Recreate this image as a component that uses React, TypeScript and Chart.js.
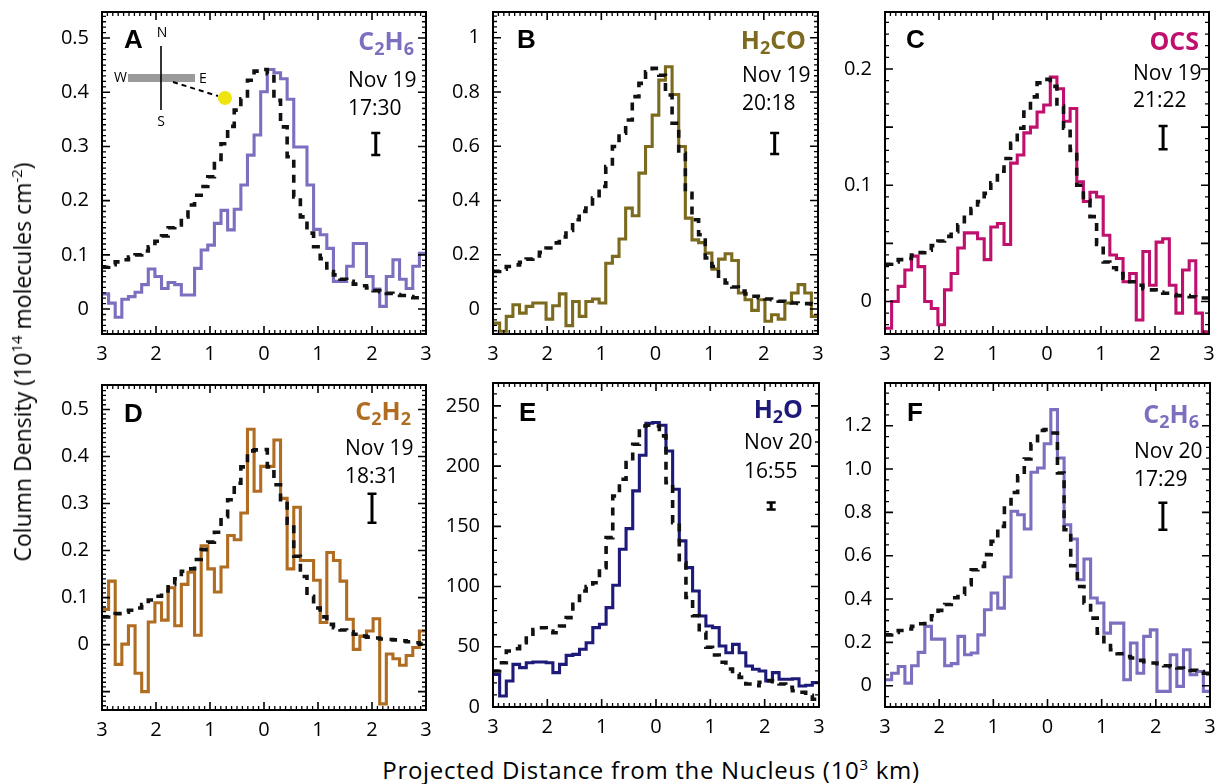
import React, { useEffect, useRef } from "react";
import { Chart, registerables } from "chart.js";

Chart.register(...registerables);

// ---------- shared axis data ----------
const X_MIN = -3;
const X_MAX = 3;
const BIN_COUNT = 49;
const xTickValues = [-3, -2, -1, 0, 1, 2, 3];
const xTickLabels = ["3", "2", "1", "0", "1", "2", "3"];
const binEdges = Array.from({ length: BIN_COUNT + 1 }, (_, i) => X_MIN + (i * (X_MAX - X_MIN)) / BIN_COUNT);

// ---------- panel A: C2H6 Nov 19 17:30 ----------
const obsA = [0.028, 0.011, -0.015, 0.018, 0.023, 0.031, 0.045, 0.074, 0.060, 0.038, 0.049, 0.045, 0.026, 0.026, 0.075, 0.109, 0.118, 0.158, 0.182, 0.146, 0.184, 0.229, 0.284, 0.321, 0.401, 0.442, 0.436, 0.425, 0.387, 0.299, 0.299, 0.229, 0.147, 0.137, 0.112, 0.051, 0.051, 0.079, 0.121, 0.121, 0.060, 0.037, 0.005, 0.060, 0.091, 0.055, 0.038, 0.079, 0.103];
const modelA = [0.077, 0.082, 0.087, 0.091, 0.096, 0.100, 0.107, 0.115, 0.125, 0.135, 0.150, 0.155, 0.170, 0.192, 0.210, 0.226, 0.244, 0.276, 0.305, 0.337, 0.367, 0.388, 0.422, 0.439, 0.442, 0.434, 0.385, 0.336, 0.281, 0.207, 0.170, 0.140, 0.115, 0.093, 0.069, 0.063, 0.055, 0.051, 0.046, 0.043, 0.039, 0.034, 0.032, 0.029, 0.027, 0.025, 0.023, 0.021, 0.020];
const yTicksA = [0, 0.1, 0.2, 0.3, 0.4, 0.5];
const yLabelsA = ["0", "0.1", "0.2", "0.3", "0.4", "0.5"];
const errA = [2.07, 0.284, 0.325];

// ---------- panel B: H2CO Nov 19 20:18 ----------
const obsB = [-0.052, -0.082, -0.027, 0.016, -0.015, 0.010, 0.022, 0.022, -0.037, 0.012, 0.056, -0.061, 0.028, -0.027, 0.028, 0.037, 0.022, 0.169, 0.194, 0.258, 0.372, 0.344, 0.501, 0.599, 0.715, 0.844, 0.893, 0.791, 0.599, 0.335, 0.255, 0.245, 0.206, 0.147, 0.184, 0.204, 0.179, 0.059, 0.034, -0.005, 0.034, -0.045, -0.021, -0.037, 0.022, 0.059, 0.090, 0.059, -0.027];
const modelB = [0.139, 0.147, 0.157, 0.163, 0.172, 0.184, 0.196, 0.209, 0.225, 0.244, 0.266, 0.290, 0.329, 0.360, 0.372, 0.409, 0.452, 0.525, 0.599, 0.648, 0.697, 0.783, 0.832, 0.875, 0.887, 0.862, 0.789, 0.685, 0.574, 0.427, 0.329, 0.274, 0.188, 0.157, 0.121, 0.096, 0.081, 0.066, 0.056, 0.047, 0.042, 0.037, 0.034, 0.029, 0.025, 0.022, 0.021, 0.020, 0.018];
const yTicksB = [0, 0.2, 0.4, 0.6, 0.8, 1];
const yLabelsB = ["0", "0.2", "0.4", "0.6", "0.8", "1"];
const errB = [2.2, 0.572, 0.649];

// ---------- panel C: OCS Nov 19 21:22 ----------
const obsC = [-0.023, 0, 0.013, 0.027, 0.039, 0.030, 0, -0.006, -0.020, 0.010, 0.024, 0.046, 0.059, 0.059, 0.054, 0.036, 0.064, 0.067, 0.049, 0.119, 0.126, 0.145, 0.150, 0.163, 0.169, 0.193, 0.183, 0.155, 0.166, 0.103, 0.086, 0.094, 0.090, 0.057, 0.040, 0.037, 0.017, 0.024, -0.016, 0.043, 0.014, 0.051, 0.054, 0.014, -0.010, 0.027, 0.035, -0.010, -0.026];
const modelC = [0.032, 0.034, 0.036, 0.037, 0.040, 0.042, 0.044, 0.048, 0.052, 0.056, 0.060, 0.066, 0.074, 0.080, 0.086, 0.093, 0.102, 0.112, 0.123, 0.136, 0.149, 0.163, 0.176, 0.188, 0.191, 0.185, 0.168, 0.149, 0.130, 0.100, 0.087, 0.073, 0.049, 0.034, 0.029, 0.024, 0.020, 0.017, 0.014, 0.011, 0.010, 0.008, 0.007, 0.006, 0.005, 0.005, 0.004, 0.003, 0.003];
const yTicksC = [0, 0.05, 0.1, 0.15, 0.2];
const yLabelsC = ["0", "", "0.1", "", "0.2"];
const errC = [2.15, 0.131, 0.151];

// ---------- panel D: C2H2 Nov 19 18:31 ----------
const obsD = [0.075, 0.135, -0.042, 0.001, 0.040, -0.061, -0.100, 0.048, 0.089, 0.052, 0.121, 0.040, 0.128, 0.154, 0.020, 0.210, 0.161, 0.112, 0.165, 0.232, 0.223, 0.280, 0.458, 0.326, 0.379, 0.379, 0.435, 0.311, 0.161, 0.292, 0.179, 0.179, 0.137, 0.047, 0.196, 0.179, 0.135, 0.054, -0.010, 0.018, 0.029, 0.055, -0.126, -0.020, -0.030, -0.044, -0.023, -0.006, 0.029];
const modelD = [0.059, 0.062, 0.066, 0.069, 0.073, 0.078, 0.085, 0.095, 0.103, 0.114, 0.128, 0.140, 0.156, 0.161, 0.181, 0.202, 0.218, 0.239, 0.272, 0.308, 0.343, 0.378, 0.412, 0.414, 0.415, 0.378, 0.340, 0.304, 0.258, 0.188, 0.145, 0.103, 0.078, 0.059, 0.043, 0.036, 0.031, 0.027, 0.022, 0.018, 0.016, 0.014, 0.012, 0.011, 0.010, 0.008, 0.006, 0.004, 0.001];
const yTicksD = [-0.1, 0, 0.1, 0.2, 0.3, 0.4, 0.5];
const yLabelsD = ["", "0", "0.1", "0.2", "0.3", "0.4", "0.5"];
const errD = [2.0, 0.259, 0.321];

// ---------- panel E: H2O Nov 20 16:55 ----------
const obsE = [27.1, 9.1, 21.6, 35.4, 32.7, 36.8, 37.4, 37.4, 36.8, 28.5, 35.4, 42.9, 43.7, 47.9, 53.4, 65.9, 68.7, 82.5, 101.1, 131.0, 148.1, 179.4, 209.0, 235.6, 236.2, 233.9, 212.6, 180.8, 137.9, 115.7, 96.3, 75.6, 67.3, 65.9, 50.7, 45.1, 52.0, 45.1, 34.1, 31.4, 29.9, 21.6, 28.5, 23.0, 23.0, 23.5, 17.4, 18.0, 20.2];
const modelE = [29.9, 36.8, 46.5, 48.4, 53.4, 58.9, 64.4, 65.8, 63.1, 61.7, 67.3, 74.2, 85.2, 96.3, 99.9, 103.2, 115.7, 140.6, 175.2, 189.1, 202.9, 218.1, 233.3, 233.9, 233.3, 225.1, 186.3, 153.0, 119.8, 90.9, 75.7, 61.9, 49.6, 43.2, 37.1, 31.6, 27.4, 24.6, 19.1, 17.7, 20.5, 21.9, 21.0, 19.1, 16.3, 13.5, 12.2, 9.7, 6.4];
const yTicksE = [0, 50, 100, 150, 200, 250];
const yLabelsE = ["0", "50", "100", "150", "200", "250"];
const errE = [2.12, 163.9, 169.7];

// ---------- panel F: C2H6 Nov 20 17:29 ----------
const obsF = [0.028, 0.058, 0.089, 0.012, 0.092, 0.154, 0.274, 0.215, 0.215, 0.092, 0.102, 0.228, 0.143, 0.151, 0.235, 0.351, 0.428, 0.358, 0.502, 0.805, 0.789, 0.723, 0.985, 1.005, 1.117, 1.274, 1.051, 0.743, 0.677, 0.489, 0.585, 0.405, 0.382, 0.243, 0.289, 0.289, 0.028, 0.197, 0.058, 0.228, 0.258, -0.026, -0.026, 0.143, -0.003, 0.166, 0.051, 0.066, -0.026];
const modelF = [0.235, 0.246, 0.255, 0.262, 0.274, 0.286, 0.305, 0.323, 0.348, 0.375, 0.406, 0.422, 0.466, 0.535, 0.551, 0.605, 0.666, 0.735, 0.820, 0.892, 0.969, 1.046, 1.117, 1.178, 1.182, 1.166, 0.982, 0.720, 0.554, 0.458, 0.382, 0.312, 0.243, 0.185, 0.166, 0.148, 0.135, 0.128, 0.117, 0.111, 0.105, 0.102, 0.092, 0.088, 0.082, 0.077, 0.071, 0.066, 0.058];
const yTicksF = [0, 0.2, 0.4, 0.6, 0.8, 1.0, 1.2];
const yLabelsF = ["0", "0.2", "0.4", "0.6", "0.8", "1.0", "1.2"];
const errF = [2.13, 0.72, 0.845];

// ---------- layout / style ----------
const FONT = "'Open Sans', 'Noto Sans', sans-serif";
const AXIS_W = 70;
const AXIS_H = 40;
const PAD = 14;

type Panel = {
  letter: string;
  molecule: string;
  date: string;
  time: string;
  color: string;
  observed: number[];
  model: number[];
  yMin: number;
  yMax: number;
  yTicks: number[];
  yLabels: string[];
  yMinor: number;
  err: number[];
  rect: [number, number, number, number];
  letterPos: [number, number];
  moleculePos: [number, number];
  datePos: [number, number, number];
  compass?: boolean;
};

const panels: Panel[] = [
  { letter: "A", molecule: "C_2H_6", date: "Nov 19", time: "17:30", color: "#7b70bf", observed: obsA, model: modelA, yMin: -0.046, yMax: 0.548, yTicks: yTicksA, yLabels: yLabelsA, yMinor: 0.01, err: errA, rect: [102, 12, 426, 334], letterPos: [124, 48], moleculePos: [414, 50], datePos: [348, 87, 115], compass: true },
  { letter: "B", molecule: "H_2CO", date: "Nov 19", time: "20:18", color: "#7c6b1f", observed: obsB, model: modelB, yMin: -0.092, yMax: 1.095, yTicks: yTicksB, yLabels: yLabelsB, yMinor: 0.02, err: errB, rect: [493, 12, 818, 334], letterPos: [517, 48], moleculePos: [806, 49], datePos: [742, 82, 110] },
  { letter: "C", molecule: "OCS", date: "Nov 19", time: "21:22", color: "#c0106e", observed: obsC, model: modelC, yMin: -0.028, yMax: 0.249, yTicks: yTicksC, yLabels: yLabelsC, yMinor: 0.01, err: errC, rect: [885, 12, 1209, 334], letterPos: [906, 48], moleculePos: [1199, 50], datePos: [1133, 80, 107] },
  { letter: "D", molecule: "C_2H_2", date: "Nov 19", time: "18:31", color: "#b06d22", observed: obsD, model: modelD, yMin: -0.139, yMax: 0.552, yTicks: yTicksD, yLabels: yLabelsD, yMinor: 0.01, err: errD, rect: [102, 385, 426, 710], letterPos: [124, 422], moleculePos: [411, 420], datePos: [345, 455, 483] },
  { letter: "E", molecule: "H_2O", date: "Nov 20", time: "16:55", color: "#1e1a7a", observed: obsE, model: modelE, yMin: 0, yMax: 269, yTicks: yTicksE, yLabels: yLabelsE, yMinor: 10, err: errE, rect: [493, 383, 819, 707], letterPos: [519, 421], moleculePos: [803, 418], datePos: [744, 449, 478] },
  { letter: "F", molecule: "C_2H_6", date: "Nov 20", time: "17:29", color: "#7b70bf", observed: obsF, model: modelF, yMin: -0.098, yMax: 1.397, yTicks: yTicksF, yLabels: yLabelsF, yMinor: 0.05, err: errF, rect: [885, 383, 1210, 707], letterPos: [907, 421], moleculePos: [1199, 423], datePos: [1134, 458, 486] },
];

function toSteps(values: number[]) {
  const pts = values.map((v, i) => ({ x: binEdges[i], y: v }));
  pts.push({ x: binEdges[values.length], y: values[values.length - 1] });
  return pts;
}

function drawFormula(ctx: CanvasRenderingContext2D, text: string, rightX: number, baseline: number, color: string) {
  const parts: { t: string; sub: boolean }[] = [];
  for (let i = 0; i < text.length; i++) {
    if (text[i] === "_") {
      parts.push({ t: text[i + 1], sub: true });
      i++;
    } else parts.push({ t: text[i], sub: false });
  }
  const big = `bold 25px ${FONT}`;
  const small = `bold 18px ${FONT}`;
  let w = 0;
  for (const p of parts) {
    ctx.font = p.sub ? small : big;
    w += ctx.measureText(p.t).width;
  }
  let x = rightX - w;
  ctx.fillStyle = color;
  ctx.textAlign = "left";
  ctx.textBaseline = "alphabetic";
  for (const p of parts) {
    ctx.font = p.sub ? small : big;
    ctx.fillText(p.t, x, p.sub ? baseline + 5 : baseline);
    x += ctx.measureText(p.t).width;
  }
}

function makeDecoPlugin(p: Panel, ox: number, oy: number) {
  return {
    id: "deco" + p.letter,
    afterDatasetsDraw(chart: any) {
      const ctx: CanvasRenderingContext2D = chart.ctx;
      const { left, top, right, bottom } = chart.chartArea;
      const xs = chart.scales.x;
      const ys = chart.scales.y;
      ctx.save();
      ctx.strokeStyle = "#000";
      // x ticks (major every 1, minor every 0.1)
      for (let k = -29; k <= 29; k++) {
        const px = xs.getPixelForValue(k / 10);
        const major = k % 10 === 0;
        const len = major ? 8 : 4;
        ctx.lineWidth = major ? 1.6 : 1.3;
        ctx.beginPath();
        ctx.moveTo(px, bottom);
        ctx.lineTo(px, bottom - len);
        ctx.moveTo(px, top);
        ctx.lineTo(px, top + len);
        ctx.stroke();
      }
      // y ticks
      const kStart = Math.ceil(p.yMin / p.yMinor - 1e-6);
      const kEnd = Math.floor(p.yMax / p.yMinor + 1e-6);
      for (let k = kStart; k <= kEnd; k++) {
        const v = k * p.yMinor;
        const py = ys.getPixelForValue(v);
        if (Math.abs(py - bottom) < 1 || Math.abs(py - top) < 1) continue;
        const major = p.yTicks.some((t) => Math.abs(t - v) < p.yMinor / 10);
        const len = major ? 8 : 4;
        ctx.lineWidth = major ? 1.6 : 1.3;
        ctx.beginPath();
        ctx.moveTo(left, py);
        ctx.lineTo(left + len, py);
        ctx.moveTo(right, py);
        ctx.lineTo(right - len, py);
        ctx.stroke();
      }
      // frame
      ctx.lineWidth = 2;
      ctx.strokeRect(left, top, right - left, bottom - top);

      // error bar
      const ex = xs.getPixelForValue(p.err[0]);
      const ey1 = ys.getPixelForValue(p.err[1]);
      const ey2 = ys.getPixelForValue(p.err[2]);
      ctx.lineWidth = 3;
      ctx.beginPath();
      ctx.moveTo(ex, ey1);
      ctx.lineTo(ex, ey2);
      ctx.stroke();
      ctx.lineWidth = 2.5;
      ctx.beginPath();
      ctx.moveTo(ex - 4.5, ey1);
      ctx.lineTo(ex + 4.5, ey1);
      ctx.moveTo(ex - 4.5, ey2);
      ctx.lineTo(ex + 4.5, ey2);
      ctx.stroke();

      // panel letter
      ctx.fillStyle = "#000";
      ctx.textAlign = "left";
      ctx.textBaseline = "alphabetic";
      ctx.font = `bold 26px 'Liberation Sans', Arial, sans-serif`;
      ctx.fillText(p.letter, p.letterPos[0] - ox, p.letterPos[1] - oy);

      // molecule
      drawFormula(ctx, p.molecule, p.moleculePos[0] - ox, p.moleculePos[1] - oy, p.color);

      // date / time
      ctx.fillStyle = "#000";
      ctx.font = `21px ${FONT}`;
      ctx.textAlign = "left";
      ctx.fillText(p.date, p.datePos[0] - ox, p.datePos[1] - oy);
      ctx.fillText(p.time, p.datePos[0] - ox, p.datePos[2] - oy);

      if (p.compass) {
        const X = (v: number) => v - ox;
        const Y = (v: number) => v - oy;
        ctx.fillStyle = "#9a9a9a";
        ctx.fillRect(X(128), Y(74), 67, 8);
        ctx.strokeStyle = "#000";
        ctx.lineWidth = 1.6;
        ctx.beginPath();
        ctx.moveTo(X(161), Y(46));
        ctx.lineTo(X(161), Y(110));
        ctx.stroke();
        ctx.setLineDash([5, 4]);
        ctx.lineWidth = 2;
        ctx.beginPath();
        ctx.moveTo(X(173), Y(82));
        ctx.lineTo(X(218), Y(96));
        ctx.stroke();
        ctx.setLineDash([]);
        ctx.fillStyle = "#f0e410";
        ctx.beginPath();
        ctx.arc(X(225), Y(98), 7, 0, Math.PI * 2);
        ctx.fill();
        ctx.fillStyle = "#000";
        ctx.font = `14px ${FONT}`;
        ctx.textAlign = "center";
        ctx.textBaseline = "middle";
        ctx.fillText("N", X(162), Y(33));
        ctx.fillText("S", X(161), Y(122));
        ctx.textAlign = "right";
        ctx.fillText("W", X(127), Y(78));
        ctx.textAlign = "left";
        ctx.fillText("E", X(199), Y(79));
      }
      ctx.restore();
    },
  };
}

function PanelChart({ p }: { p: Panel }) {
  const ref = useRef<HTMLCanvasElement>(null);
  const [L, T, R, B] = p.rect;
  const cx = L - AXIS_W;
  const cy = T - PAD;
  const cw = R - L + AXIS_W + PAD;
  const ch = B - T + PAD + AXIS_H;

  useEffect(() => {
    const canvas = ref.current!;
    const chart = new Chart(canvas, {
      type: "line",
      data: {
        datasets: [
          {
            label: "model",
            data: toSteps(p.model),
            stepped: true,
            borderColor: "#111",
            borderWidth: 3.6,
            borderDash: [8, 7],
            borderCapStyle: "butt",
            borderJoinStyle: "miter",
            pointRadius: 0,
            fill: false,
          },
          {
            label: "observed",
            data: toSteps(p.observed),
            stepped: true,
            borderColor: p.color,
            borderWidth: 3.1,
            borderJoinStyle: "miter",
            pointRadius: 0,
            fill: false,
          },
        ],
      } as any,
      options: {
        responsive: false,
        maintainAspectRatio: false,
        animation: false,
        devicePixelRatio: 1,
        layout: { padding: { top: PAD, right: PAD, left: 0, bottom: 0 } },
        plugins: { legend: { display: false }, tooltip: { enabled: false } },
        scales: {
          x: {
            type: "linear",
            min: X_MIN,
            max: X_MAX,
            grid: { display: false, drawTicks: false },
            border: { display: false },
            afterBuildTicks: (s: any) => {
              s.ticks = xTickValues.map((v) => ({ value: v }));
            },
            afterFit: (s: any) => {
              s.height = AXIS_H;
              s.paddingLeft = 0;
              s.paddingRight = 0;
            },
            ticks: {
              autoSkip: false,
              maxRotation: 0,
              padding: 8,
              color: "#000",
              font: { family: FONT, size: 20 },
              callback: (_v: any, i: number) => xTickLabels[i],
            },
          },
          y: {
            type: "linear",
            min: p.yMin,
            max: p.yMax,
            grid: { display: false, drawTicks: false },
            border: { display: false },
            afterBuildTicks: (s: any) => {
              s.ticks = p.yTicks.map((v) => ({ value: v }));
            },
            afterFit: (s: any) => {
              s.width = AXIS_W;
              s.paddingTop = 0;
              s.paddingBottom = 0;
            },
            ticks: {
              autoSkip: false,
              padding: 13,
              color: "#000",
              font: { family: FONT, size: 20 },
              callback: (_v: any, i: number) => p.yLabels[i],
            },
          },
        },
      } as any,
      plugins: [makeDecoPlugin(p, cx, cy)],
    });
    return () => chart.destroy();
  }, []);

  return (
    <canvas
      ref={ref}
      width={cw}
      height={ch}
      style={{ position: "absolute", left: cx, top: cy, width: cw, height: ch }}
    />
  );
}

const supStyle: React.CSSProperties = { fontSize: 15, verticalAlign: "9px", lineHeight: 0 };

export default function App() {
  return (
    <div
      style={{
        position: "fixed",
        left: 0,
        top: 0,
        width: 1217,
        height: 784,
        background: "#fff",
        overflow: "hidden",
        fontFamily: FONT,
        color: "#000",
      }}
    >
      {panels.map((p) => (
        <PanelChart key={p.letter} p={p} />
      ))}
      <div
        style={{
          position: "absolute",
          left: 22,
          top: 362,
          transform: "translate(-50%, -50%) rotate(-90deg)",
          whiteSpace: "nowrap",
          fontSize: 23,
          lineHeight: "26px",
        }}
      >
        Column Density (10<sup style={supStyle}>14</sup> molecules cm<sup style={supStyle}>-2</sup>)
      </div>
      <div
        style={{
          position: "absolute",
          left: 651,
          top: 770,
          transform: "translate(-50%, -50%)",
          whiteSpace: "nowrap",
          fontSize: 24,
          letterSpacing: "0.7px",
          lineHeight: "26px",
        }}
      >
        Projected Distance from the Nucleus (10<sup style={supStyle}>3</sup> km)
      </div>
    </div>
  );
}
